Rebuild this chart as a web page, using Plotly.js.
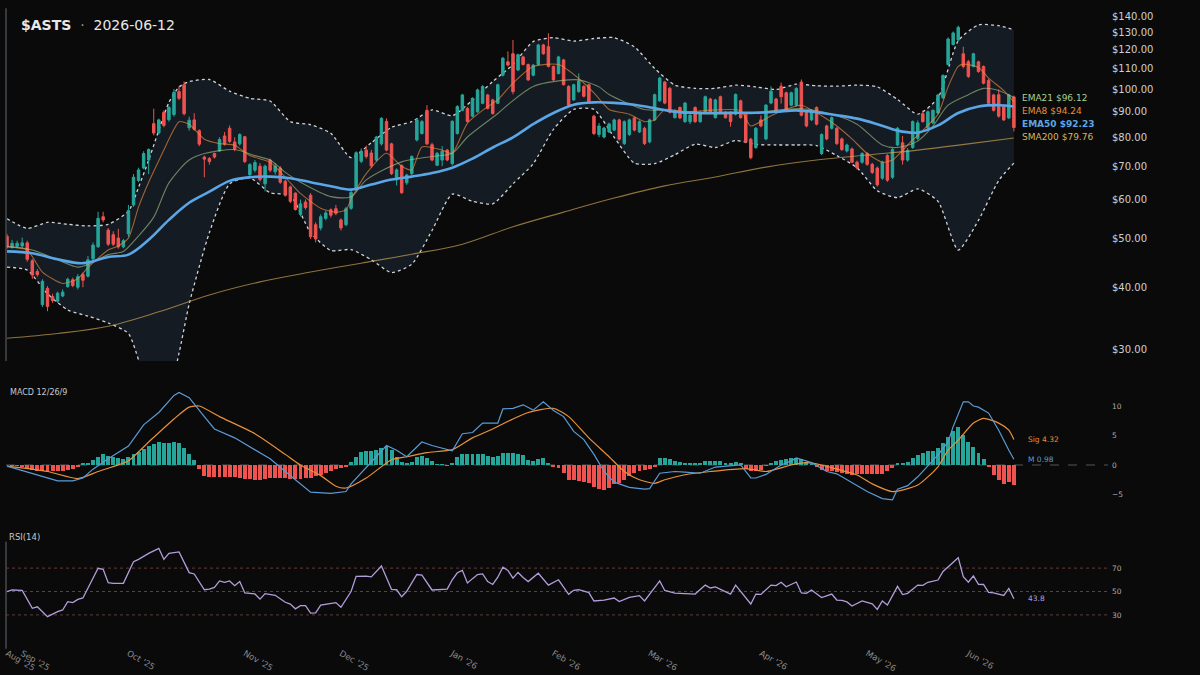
<!DOCTYPE html>
<html>
<head>
<meta charset="utf-8">
<script src="https://cdn.plot.ly/plotly-3.0.1.min.js"></script>
<style>
  html, body { margin: 0; padding: 0; background: #0a0a0a; }
  #chart { width: 1200px; height: 675px; }
</style>
</head>
<body>
<div id="chart"></div>
<script>
// ---------------- DATA ----------------
const ticker = "$ASTS";
const asOf = "2026-06-12";

// x-axis month ticks (trading-day index) and labels
const tickIdx = [0, 3, 24, 47, 66, 88, 108, 127, 149, 170, 190];
const tickText = ["Aug '25", "Sep '25", "Oct '25", "Nov '25", "Dec '25", "Jan '26", "Feb '26", "Mar '26", "Apr '26", "May '26", "Jun '26"];

// daily candles (200 sessions)
const openP = [
  50.6,48.1,48.3,48.4,49.1,45.2,43.0,36.9,39.8,38.3,
  37.5,38.4,40.1,41.4,40.0,42.4,42.1,45.6,48.2,55.4,
  52.1,51.0,50.2,48.2,51.2,58.5,65.5,69.4,72.0,85.2,
  81.6,89.8,86.8,88.9,98.8,102.0,83.6,86.7,82.5,73.0,
  72.5,74.2,75.1,80.5,83.4,78.3,77.6,80.2,67.3,68.7,
  70.0,64.5,72.0,68.2,69.4,65.3,63.6,61.8,56.0,59.3,
  61.2,53.4,52.6,55.0,57.2,57.5,54.6,53.4,57.6,62.7,
  71.6,75.4,74.4,72.0,77.6,86.1,77.6,65.7,70.2,64.8,
  67.6,79.0,81.4,90.6,77.3,70.3,72.0,75.4,70.8,81.4,
  90.6,91.4,88.2,90.0,93.6,97.3,95.1,93.6,106.6,113.4,
  117.7,109.2,116.0,112.0,106.6,112.0,122.6,121.6,111.0,107.4,
  114.4,101.2,95.1,98.8,101.2,102.0,88.2,81.0,80.1,82.0,
  82.7,86.7,77.7,81.0,87.5,82.0,83.4,78.3,86.7,94.7,
  103.3,100.3,87.6,91.8,86.0,86.0,91.8,86.0,89.8,95.5,
  87.6,96.5,89.8,89.8,89.0,94.7,89.0,79.3,76.3,86.7,
  79.4,93.7,95.5,101.3,98.3,92.8,92.8,103.3,89.8,86.7,
  91.8,74.2,84.3,83.4,83.4,79.4,75.1,75.8,71.3,71.3,
  74.2,70.6,69.4,66.2,73.5,66.5,77.2,78.0,72.0,76.3,
  79.6,89.2,83.5,85.5,89.5,96.0,112.0,122.8,125.4,117.7,
  113.5,111.0,113.4,111.0,104.0,97.3,97.4,92.2,87.5,96.4
];
const highP = [
  51.2,49.8,49.6,50.3,49.6,45.6,43.5,41.5,40.2,38.8,
  39.2,39.6,41.8,41.8,42.5,42.8,46.2,49.2,56.7,56.7,
  52.6,51.8,52.4,50.0,58.5,67.5,69.5,75.0,76.0,91.3,
  87.2,90.6,92.5,100.0,101.3,103.5,88.0,89.4,83.0,73.5,
  73.0,74.5,80.0,82.0,84.5,80.0,81.5,80.5,71.0,72.0,
  71.0,70.5,72.5,71.0,70.0,65.8,64.0,62.0,60.0,60.0,
  61.8,54.0,56.0,57.0,57.6,58.5,55.0,58.0,62.5,75.0,
  76.0,77.0,75.5,80.5,87.8,87.3,78.0,69.3,70.6,67.6,
  73.6,87.2,86.6,92.8,78.0,74.8,76.8,75.8,86.6,92.8,
  97.8,92.0,96.2,100.2,101.8,97.8,95.6,102.5,116.0,119.0,
  125.4,117.8,116.6,112.5,112.2,123.2,123.2,129.4,111.5,116.6,
  115.0,101.8,102.5,107.5,101.8,102.5,88.8,85.5,84.0,85.6,
  87.2,87.2,86.5,87.2,88.0,86.5,84.0,87.2,97.9,105.8,
  103.8,101.0,91.0,92.3,94.2,90.0,92.3,90.3,97.0,96.0,
  95.6,97.0,90.3,90.3,98.0,95.2,89.5,79.8,83.9,88.5,
  93.3,101.3,96.0,103.0,98.8,98.8,100.8,104.5,90.3,91.0,
  92.3,81.5,84.8,88.1,83.9,79.9,77.7,76.3,71.8,74.7,
  74.7,71.1,69.9,71.8,74.0,76.1,83.9,80.5,76.1,86.5,
  86.5,90.6,90.5,91.0,97.8,107.0,127.0,130.5,134.0,121.6,
  114.4,118.2,114.0,111.5,104.8,97.8,99.8,92.7,97.8,97.0
];
const lowP = [
  47.8,47.8,48.0,48.0,45.0,41.6,42.0,36.5,35.8,37.2,
  37.2,38.2,39.9,40.0,39.6,40.0,41.8,45.2,48.0,54.0,
  48.4,48.4,47.8,47.9,50.5,58.0,65.0,69.0,67.5,80.7,
  81.0,83.8,86.0,88.0,95.0,88.5,82.5,82.5,76.8,66.5,
  70.5,72.5,74.8,77.0,78.0,75.0,77.0,71.0,66.8,68.0,
  65.2,62.3,68.0,67.3,64.5,60.8,59.0,57.0,55.5,57.3,
  50.0,49.2,52.0,54.5,55.2,55.8,52.0,53.0,57.2,62.5,
  71.0,72.5,69.5,71.5,77.0,75.0,67.2,64.0,61.6,64.2,
  67.2,78.5,81.0,77.2,71.6,70.0,70.0,71.6,70.2,81.0,
  90.2,85.6,87.8,89.6,93.2,91.0,88.8,93.2,106.0,111.0,
  97.6,108.6,111.5,103.8,106.0,111.5,117.2,110.5,103.8,107.0,
  101.6,92.4,94.6,98.3,96.2,93.8,80.8,80.0,79.6,81.6,
  82.3,78.8,77.2,80.5,82.2,81.6,77.2,77.8,86.2,94.2,
  93.2,89.3,87.2,87.0,85.5,85.0,85.5,85.5,89.3,89.3,
  87.2,89.3,87.2,84.0,88.5,87.2,77.8,72.3,75.8,83.8,
  78.9,93.2,89.3,93.5,90.0,92.3,92.3,88.1,83.8,86.2,
  84.5,73.7,78.9,82.9,77.2,75.1,74.6,71.0,68.9,70.8,
  70.1,67.5,63.7,65.7,65.1,66.0,76.7,70.5,71.5,75.8,
  78.8,85.6,83.0,85.0,89.0,95.5,111.5,122.3,125.0,110.0,
  105.2,110.5,107.8,102.2,93.2,90.1,87.6,86.2,87.0,82.2
];
const closeP = [
  48.2,49.0,49.0,49.1,45.5,42.3,42.4,41.1,36.6,37.6,
  38.9,39.1,41.5,40.3,42.0,41.3,45.4,48.6,55.0,54.6,
  48.8,48.8,48.2,49.6,57.0,66.5,68.8,74.2,75.6,81.6,
  86.7,84.5,91.8,98.5,95.8,89.2,86.6,83.0,77.5,72.3,
  71.5,73.0,79.2,77.5,78.5,75.8,81.0,71.5,70.5,71.2,
  65.8,70.0,68.7,70.0,65.0,61.2,59.5,57.3,58.8,57.8,
  50.5,50.0,55.4,56.4,55.8,56.3,52.6,57.5,62.0,74.5,
  75.0,73.2,70.1,80.1,87.3,75.4,67.6,68.8,61.9,67.2,
  73.2,86.7,86.0,77.6,72.0,74.3,75.0,72.0,86.1,92.2,
  97.3,86.1,95.8,99.6,101.2,91.4,89.3,102.0,115.3,111.7,
  98.8,117.2,112.0,104.3,111.7,122.6,117.7,111.0,104.3,116.0,
  102.0,92.8,102.0,103.8,96.7,94.3,81.4,84.3,83.5,85.1,
  86.7,79.3,86.0,86.7,82.7,86.0,77.7,86.7,97.4,105.2,
  93.7,89.8,90.5,87.5,93.7,88.6,86.0,89.8,96.5,89.8,
  95.1,89.8,87.6,86.0,97.5,87.6,78.3,72.8,83.4,84.3,
  92.8,99.0,89.8,96.5,90.5,98.3,100.3,88.6,84.3,90.5,
  85.0,81.0,79.4,87.6,77.7,75.6,77.2,71.3,69.4,74.2,
  70.6,68.0,64.2,71.3,65.6,75.6,83.4,72.0,75.3,86.0,
  85.5,86.0,90.0,90.6,97.3,106.5,126.0,129.6,133.0,111.0,
  106.0,117.7,108.4,102.7,93.6,90.6,88.2,86.7,97.3,83.7
];

// overlay lines: [session index] -> value
const ema8Idx = [0,4,7,11,14,16,20,22,24,26,28,31,32,34,36,39,42,45,48,52,55,58,62,65,67,68,69,71,75,78,80,82,86,88,91,95,97,100,104,109,113,116,119,123,126,128,130,134,140,145,147,151,155,157,161,164,167,170,173,175,178,181,184,186,188,189,192,194,197,199];
const ema8Val = [48.2,47.5,42.9,40.7,41.6,43.8,47.5,48.4,50.2,58.0,65.0,75.4,79.3,86.0,85.0,79.3,77.7,77.1,73.5,71.3,66.5,61.7,57.6,56.6,57.2,60.0,62.7,67.6,74.3,70.0,68.8,76.5,75.4,74.3,85.4,92.2,95.1,102.8,111.0,112.0,105.0,98.2,91.0,89.0,86.0,86.7,91.0,90.0,90.8,90.5,84.3,88.4,91.8,92.8,88.4,84.3,79.4,74.2,71.3,72.0,77.2,82.6,89.0,101.0,111.0,112.2,110.5,105.2,99.3,94.24];

const ema21Idx = [0,5,10,14,16,20,23,26,29,32,36,39,45,49,52,55,58,64,68,71,78,84,88,91,97,99,104,111,113,117,119,126,130,134,146,157,163,168,173,176,180,183,186,190,193,196,199];
const ema21Val = [48.3,47.5,45.4,43.9,44.4,46.5,47.2,50.7,55.3,64.8,72.0,74.2,75.6,73.5,72.0,68.0,65.0,60.8,60.8,65.7,71.4,73.2,74.3,80.1,89.3,93.0,101.2,104.3,104.3,101.0,97.5,91.0,90.6,89.4,89.4,91.3,89.0,85.0,77.2,76.3,78.6,84.2,92.8,97.4,100.3,99.3,96.12];

const ema50Idx = [0,5,10,15,20,24,28,32,36,40,44,48,52,56,60,64,68,72,76,80,84,88,92,96,100,104,108,112,116,120,124,128,132,136,140,144,148,152,156,160,164,168,172,176,180,184,188,192,196,199];
const ema50Val = [47.2,46.8,45.5,44.7,46.0,46.5,49.8,54.6,59.1,62.2,65.4,66.5,66.7,66.2,65.0,63.8,62.8,64.3,65.8,66.7,67.8,69.5,72.5,76.3,80.0,85.0,89.5,93.0,94.0,93.8,93.0,91.5,90.0,89.6,89.5,89.6,89.6,90.0,90.6,89.8,88.6,87.2,85.0,82.5,81.8,84.5,89.5,92.2,92.8,92.23];

const sma200Idx = [0,10,20,30,40,50,60,70,80,90,100,110,120,130,140,150,160,170,180,190,199];
const sma200Val = [31.6,32.3,33.4,35.7,38.6,41.0,42.9,44.7,46.6,48.8,52.9,56.6,60.4,63.9,66.6,69.7,72.0,73.7,75.4,77.6,79.76];

// Bollinger bands (20, 2)
const bbIdx = [0,4,8,12,16,20,24,26,28,32,34,36,40,44,48,52,56,60,64,68,72,76,80,84,88,92,96,100,104,108,112,116,120,124,128,132,136,140,144,148,152,156,160,164,168,172,176,180,184,188,192,196,199];
const bbUpper = [54.9,52.5,54.0,53.5,53.1,53.5,56.8,63.5,72.0,94.0,101.0,103.5,104.5,99.0,95.8,94.6,86.0,84.8,81.5,72.8,78.0,83.8,86.0,90.8,88.4,95.0,103.5,112.0,124.5,126.8,124.8,126.3,126.8,121.5,110.0,101.8,100.3,100.3,101.8,101.0,99.8,102.3,101.5,101.3,101.8,101.0,95.3,89.0,96.0,125.0,134.5,134.0,131.5];
const bbLower = [43.9,43.3,38.8,36.0,35.0,33.9,32.3,28.6,25.0,25.0,29.5,37.0,51.5,64.5,66.3,61.9,61.1,51.5,47.4,47.6,45.4,42.8,44.5,52.0,61.5,59.5,58.8,64.5,70.8,83.0,91.0,91.0,80.0,71.0,70.8,73.8,77.5,76.3,78.8,77.4,77.2,77.2,77.0,73.5,69.5,62.5,60.5,63.0,59.5,47.5,54.5,65.5,71.0];

// MACD (12, 26, 9)
const macdIdx = [0,5,8,10,13,15,17,20,24,27,30,33,34,36,39,41,45,49,52,55,58,60,64,67,68,71,74,75,77,79,82,84,88,90,92,94,97,98,100,102,104,106,108,110,112,114,116,118,120,123,126,127,129,132,134,137,140,145,147,148,150,153,155,156,159,162,164,166,168,170,173,175,176,178,180,184,186,187,189,190,191,192,194,196,198,199];
const macdVal = [-0.2,-1.4,-2.2,-2.7,-2.7,-2.2,-0.7,1.05,3.2,6.8,8.9,11.8,12.3,11.4,8.2,6.1,4.6,2.5,1.05,-1.1,-3.2,-4.6,-4.8,-4.5,-3.2,-0.35,2.5,3.3,2.5,1.4,3.9,3.3,2.4,5.3,5.5,7.1,7.1,9.5,9.6,10.2,9.3,10.7,9.25,8.2,5.7,4.3,1.8,-1.1,-2.9,-3.8,-4.1,-4.0,-1.4,-1.1,-1.2,-1.4,-0.35,0,-2.2,-2.2,-1.6,0,0.7,1.2,0.4,-1.1,-1.5,-2.5,-3.6,-4.5,-5.7,-5.9,-4.1,-3.5,-2.0,1.7,3.9,6.5,10.7,10.7,10.0,9.8,8.8,5.9,2.5,0.98];
const sigIdx = [0,8,14,18,24,28,33,36,38,42,49,55,58,62,65,67,71,76,79,83,88,92,96,100,103,108,111,115,119,122,125,128,130,134,139,146,150,155,158,161,164,168,171,175,180,184,186,188,191,193,196,198,199];
const sigVal = [-0.2,-1.1,-2.3,-1.1,0.7,3.9,7.8,9.8,10.0,8.2,5.3,1.8,0,-1.8,-3.6,-3.9,-2.2,0.9,1.4,2.1,2.6,4.6,6.1,7.8,8.9,9.6,8.2,4.6,1.4,-1.1,-2.5,-3.1,-2.5,-1.65,-1.1,-0.6,-1.1,0,0.4,0,-0.7,-1.7,-3.2,-4.5,-3.4,-0.3,2.5,4.2,7.1,7.9,7.1,5.9,4.32];
const histVal = [
  0.0,-0.1,-0.2,-0.3,-0.6,-0.9,-1.1,-1.1,-1.2,-1.1,
  -1.1,-1.0,-0.8,-0.6,-0.4,0.3,0.4,0.9,1.4,1.8,
  1.6,1.4,1.2,1.0,1.4,1.8,2.2,2.7,3.2,3.6,
  3.9,3.8,3.8,3.9,3.8,2.9,1.8,0.8,-0.6,-1.8,
  -2.0,-2.1,-2.0,-2.0,-2.0,-2.1,-2.2,-2.4,-2.4,-2.5,
  -2.5,-2.3,-2.2,-2.2,-2.2,-2.2,-2.3,-2.4,-2.3,-2.2,
  -2.2,-1.9,-1.7,-1.3,-1.0,-0.7,-0.5,-0.3,0.5,1.4,
  2.2,2.4,2.4,2.6,2.9,3.2,2.6,1.3,0.5,0.3,
  0.5,1.4,1.5,1.2,0.6,0.2,0.1,-0.1,0.4,1.4,
  1.9,1.8,1.8,1.8,1.9,1.6,1.3,1.5,2.0,2.1,
  2.1,1.9,1.7,0.8,0.7,1.0,1.2,0.4,-0.4,-0.5,
  -1.3,-2.5,-2.6,-2.7,-2.9,-3.1,-3.8,-4.1,-4.3,-3.9,
  -3.2,-3.0,-2.5,-1.8,-1.3,-1.1,-0.9,-0.7,-0.4,1.2,
  1.2,1.0,0.6,0.5,0.4,0.3,0.3,0.4,0.6,0.7,
  0.7,0.6,0.4,0.3,0.5,0.3,-0.7,-1.1,-1.0,-0.8,
  -0.1,0.4,0.7,0.9,1.0,1.2,1.2,1.0,0.5,0.2,
  -0.4,-0.8,-1.0,-1.1,-1.2,-1.4,-1.5,-1.7,-1.6,-1.5,
  -1.5,-1.5,-1.6,-1.5,-1.1,-0.5,0.4,0.4,0.5,1.1,
  1.7,2.1,2.4,2.4,2.8,3.7,4.8,5.8,6.4,5.1,
  3.9,3.1,2.0,1.0,-0.4,-1.7,-2.5,-3.2,-2.8,-3.4
];

// RSI (14)
const rsiIdx = [0,1,3,5,6,8,10,11,12,13,14,15,18,19,20,21,23,25,26,27,28,30,31,32,34,36,37,39,40,41,42,43,44,45,46,47,49,50,51,53,55,56,57,58,59,60,61,62,64,65,66,68,69,71,72,74,76,77,78,79,81,82,84,86,87,88,89,90,91,92,93,94,95,96,97,98,99,100,101,102,103,105,107,109,111,112,113,115,116,118,120,121,123,125,126,129,130,132,133,136,138,139,140,143,144,146,147,148,149,151,152,153,154,156,157,158,159,161,163,164,165,166,167,169,171,172,173,174,176,177,178,180,181,182,184,185,186,187,188,189,190,191,192,193,194,195,197,198,199];
const rsiVal = [49.8,51.3,50.9,35.6,36.9,28.5,32.8,34.2,41.3,40.5,43.3,44.5,69.8,69.0,57.5,57.0,57.0,75.5,77.5,80.3,82.6,86.9,77.5,82.6,83.8,66.1,65.0,51.5,52.0,53.5,59.0,57.8,59.0,55.0,58.6,48.8,47.9,43.5,48.2,46.8,40.8,39.3,35.2,37.9,38.0,31.5,31.8,38.3,40.0,40.5,36.5,50.0,63.0,63.2,62.5,71.8,51.8,51.5,45.5,50.2,64.5,64.0,51.3,51.5,52.0,60.0,66.0,68.1,57.3,61.0,64.5,65.0,58.5,56.0,62.2,70.7,68.0,61.4,66.3,61.9,58.5,65.6,55.5,60.0,47.6,51.0,51.5,49.0,41.9,42.7,44.4,41.4,45.0,46.5,41.9,59.1,50.9,48.6,48.4,47.8,55.5,53.0,54.0,47.8,55.5,44.8,39.3,47.8,47.5,55.5,55.0,57.9,54.0,58.1,48.8,48.5,51.3,44.8,47.8,42.7,42.5,41.1,37.6,41.9,39.4,34.7,41.9,38.5,54.4,47.4,48.4,55.5,55.3,57.9,59.8,67.1,71.0,75.3,78.9,62.7,57.9,63.4,56.2,56.0,49.2,48.8,46.6,52.6,43.8];

const priceTicks = [30, 40, 50, 60, 70, 80, 90, 100, 110, 120, 130, 140];
const macdTicks = [-5, 0, 5, 10];
const rsiTicks = [30, 50, 70];

// last-value labels
const lastEma21 = 96.12, lastEma8 = 94.24, lastEma50 = 92.23, lastSma200 = 79.76;
const lastSig = 4.32, lastMacd = 0.98, lastRsi = 43.8;

// ---------------- STYLE ----------------
const BG = '#0a0a0a';
const UP = '#26a69a', DOWN = '#ef5350';
const FONT = 'DejaVu Sans, Verdana, sans-serif';
const PRICE_RANGE = [1.4538, 2.1687];

const candleX = closeP.map((_, i) => i);
const traces = [
  // bands on the base price axis (drawn underneath)
  { type: 'scatter', mode: 'lines', x: bbIdx, y: bbUpper, xaxis: 'x', yaxis: 'y',
    line: { color: '#cfd3d8', width: 1.3, dash: 'dot', shape: 'spline', smoothing: 0.6 }, hoverinfo: 'skip' },
  { type: 'scatter', mode: 'lines', x: bbIdx, y: bbLower, xaxis: 'x', yaxis: 'y',
    fill: 'tonexty', fillcolor: '#141b23',
    line: { color: '#cfd3d8', width: 1.3, dash: 'dot', shape: 'spline', smoothing: 0.6 }, hoverinfo: 'skip' },
  // candles and averages on an overlaying price axis (drawn on top of the band)
  { type: 'candlestick', x: candleX, open: openP, high: highP, low: lowP, close: closeP,
    xaxis: 'x', yaxis: 'y4', whiskerwidth: 0,
    increasing: { line: { color: UP, width: 1 }, fillcolor: UP },
    decreasing: { line: { color: DOWN, width: 1 }, fillcolor: DOWN }, hoverinfo: 'skip' },
  { type: 'scatter', mode: 'lines', x: sma200Idx, y: sma200Val, xaxis: 'x', yaxis: 'y4',
    line: { color: 'rgba(214,172,88,0.65)', width: 1.1, shape: 'spline' }, hoverinfo: 'skip' },
  { type: 'scatter', mode: 'lines', x: ema21Idx, y: ema21Val, xaxis: 'x', yaxis: 'y4',
    line: { color: 'rgba(170,200,140,0.6)', width: 1.1, shape: 'spline', smoothing: 0.8 }, hoverinfo: 'skip' },
  { type: 'scatter', mode: 'lines', x: ema8Idx, y: ema8Val, xaxis: 'x', yaxis: 'y4',
    line: { color: 'rgba(235,140,60,0.65)', width: 1.1, shape: 'spline', smoothing: 0.6 }, hoverinfo: 'skip' },
  { type: 'scatter', mode: 'lines', x: ema50Idx, y: ema50Val, xaxis: 'x', yaxis: 'y4',
    line: { color: '#5aa6e6', width: 2.6, shape: 'spline' }, hoverinfo: 'skip' },
  // MACD
  { type: 'bar', x: candleX, y: histVal, xaxis: 'x', yaxis: 'y2', width: 0.78,
    marker: { color: histVal.map(v => v >= 0 ? UP : DOWN), line: { width: 0 } }, hoverinfo: 'skip' },
  { type: 'scatter', mode: 'lines', x: sigIdx, y: sigVal, xaxis: 'x', yaxis: 'y2',
    line: { color: '#e8913a', width: 1.2, shape: 'spline', smoothing: 0.6 }, hoverinfo: 'skip' },
  { type: 'scatter', mode: 'lines', x: macdIdx, y: macdVal, xaxis: 'x', yaxis: 'y2',
    line: { color: '#5b9bd5', width: 1.2 }, hoverinfo: 'skip' },
  // RSI
  { type: 'scatter', mode: 'lines', x: rsiIdx, y: rsiVal, xaxis: 'x', yaxis: 'y3',
    line: { color: '#b39ddb', width: 1.3 }, hoverinfo: 'skip' }
];

const layout = {
  width: 1200, height: 675,
  paper_bgcolor: BG, plot_bgcolor: BG,
  margin: { l: 6, r: 92, t: 5, b: 25 },
  showlegend: false, hovermode: false, bargap: 0,
  font: { family: FONT, color: '#bbbbbb', size: 10 },
  xaxis: {
    range: [-0.2, 217.6], anchor: 'y3', tickmode: 'array', tickvals: tickIdx, ticktext: tickText,
    tickangle: 30, tickfont: { size: 8.5, color: '#8c8c8c' }, ticklabelstandoff: -4,
    showgrid: false, zeroline: false, showline: false, ticks: '', rangeslider: { visible: false }
  },
  yaxis: {
    domain: [0.448, 1], type: 'log', range: PRICE_RANGE, side: 'right', anchor: 'x',
    tickmode: 'array', tickvals: priceTicks, tickformat: '$.2f', ticklabelstandoff: 3,
    tickfont: { size: 10, color: '#cfcfcf' }, showgrid: false, zeroline: false, ticks: ''
  },
  yaxis4: {
    overlaying: 'y', type: 'log', range: PRICE_RANGE, side: 'right', anchor: 'x',
    showticklabels: false, showgrid: false, zeroline: false, ticks: ''
  },
  yaxis2: {
    domain: [0.2045, 0.4149], range: [-9, 14], side: 'right', anchor: 'x',
    tickmode: 'array', tickvals: macdTicks, tickfont: { size: 7.5, color: '#aaaaaa' }, ticklabelstandoff: 3,
    showgrid: false, zeroline: false, ticks: ''
  },
  yaxis3: {
    domain: [0, 0.1814], range: [0, 100], side: 'right', anchor: 'x',
    tickmode: 'array', tickvals: rsiTicks, tickfont: { size: 7.5, color: '#aaaaaa' }, ticklabelstandoff: 3,
    showgrid: false, zeroline: false, ticks: ''
  },
  shapes: [
    { type: 'line', xref: 'paper', x0: 0, x1: 1, yref: 'y2', y0: 0, y1: 0, layer: 'below',
      line: { color: '#555555', width: 1, dash: 'dash' } },
    { type: 'line', xref: 'paper', x0: 0, x1: 1, yref: 'y3', y0: 70, y1: 70, layer: 'below',
      line: { color: '#6a3838', width: 1, dash: 'dot' } },
    { type: 'line', xref: 'paper', x0: 0, x1: 1, yref: 'y3', y0: 50, y1: 50, layer: 'below',
      line: { color: '#4a4a4a', width: 1, dash: 'dot' } },
    { type: 'line', xref: 'paper', x0: 0, x1: 1, yref: 'y3', y0: 30, y1: 30, layer: 'below',
      line: { color: '#5a3d3a', width: 1, dash: 'dot' } },
    { type: 'line', xref: 'paper', x0: 0, x1: 0, yref: 'paper', y0: 0.448, y1: 0.995,
      line: { color: '#454b52', width: 1.5 } },
    { type: 'line', xref: 'paper', x0: 0, x1: 0, yref: 'paper', y0: 0.002, y1: 0.168,
      line: { color: '#454b52', width: 1.5 } }
  ],
  annotations: [
    { xref: 'paper', yref: 'paper', x: 0.0118, y: 0.969, xanchor: 'left', yanchor: 'middle', showarrow: false,
      text: '<b>' + ticker + '</b>\u00a0\u00a0<span style="color:#9a9a9a">·</span>\u00a0\u00a0' + asOf,
      font: { size: 14, color: '#e8e8e8', family: FONT } },
    { xref: 'paper', yref: 'paper', x: 0.0015, y: 0.400, xanchor: 'left', yanchor: 'middle', showarrow: false,
      text: 'MACD 12/26/9', font: { size: 8, color: '#c8c8c8' } },
    { xref: 'paper', yref: 'paper', x: 0.0005, y: 0.1752, xanchor: 'left', yanchor: 'middle', showarrow: false,
      text: 'RSI(14)', font: { size: 8.5, color: '#c8c8c8' } },
    { xref: 'x', yref: 'y', x: 200.3, y: 1.9813, xanchor: 'left', yanchor: 'middle', showarrow: false,
      text: 'EMA21 $' + lastEma21.toFixed(2), font: { size: 9, color: '#a9cf8f' } },
    { xref: 'x', yref: 'y', x: 200.3, y: 1.9558, xanchor: 'left', yanchor: 'middle', showarrow: false,
      text: 'EMA8 $' + lastEma8.toFixed(2), font: { size: 9, color: '#e8913a' } },
    { xref: 'x', yref: 'y', x: 200.3, y: 1.9297, xanchor: 'left', yanchor: 'middle', showarrow: false,
      text: '<b>EMA50 $' + lastEma50.toFixed(2) + '</b>', font: { size: 9, color: '#5aa6e6' } },
    { xref: 'x', yref: 'y', x: 200.3, y: 1.9030, xanchor: 'left', yanchor: 'middle', showarrow: false,
      text: 'SMA200 $' + lastSma200.toFixed(2), font: { size: 9, color: '#d9b45a' } },
    { xref: 'x', yref: 'y2', x: 201.4, y: lastSig, xanchor: 'left', yanchor: 'middle', showarrow: false,
      text: 'Sig ' + lastSig.toFixed(2), font: { size: 7.5, color: '#e8913a' } },
    { xref: 'x', yref: 'y2', x: 201.4, y: lastMacd, xanchor: 'left', yanchor: 'middle', showarrow: false,
      text: 'M ' + lastMacd.toFixed(2), font: { size: 7.5, color: '#5b9bd5' } },
    { xref: 'x', yref: 'y3', x: 201.4, y: lastRsi, xanchor: 'left', yanchor: 'middle', showarrow: false,
      text: lastRsi.toFixed(1), font: { size: 7.5, color: '#b39ddb' } }
  ]
};

Plotly.newPlot('chart', traces, layout, { displayModeBar: false, staticPlot: true });
</script>
</body>
</html>
